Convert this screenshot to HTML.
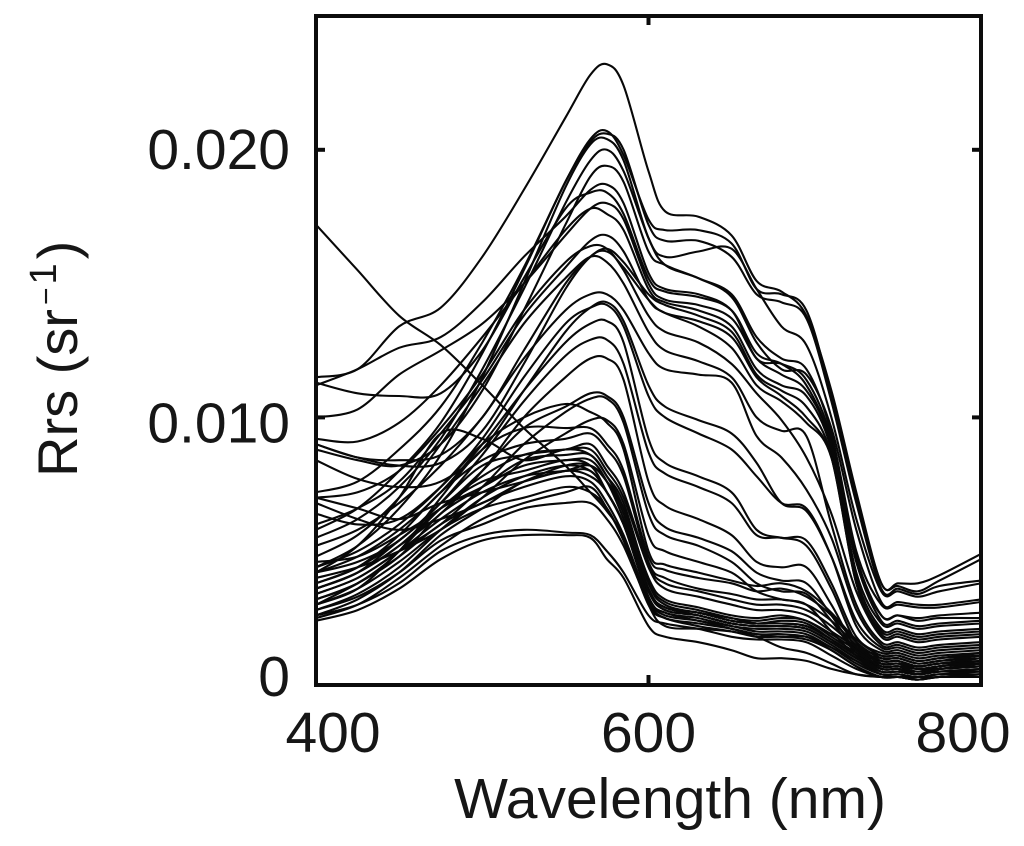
<!DOCTYPE html>
<html>
<head>
<meta charset="utf-8">
<title>Rrs spectra</title>
<style>
html,body{margin:0;padding:0;background:#fff;}
svg{display:block;filter:blur(0.35px);}
text{font-family:"Liberation Sans",Arial,sans-serif;fill:#161616;}
</style>
</head>
<body>
<svg id="chart" width="1024" height="846" viewBox="0 0 1024 846" xmlns="http://www.w3.org/2000/svg">
<defs><clipPath id="plot-clip"><rect x="316" y="16" width="665" height="669"/></clipPath></defs>
<g id="curves" clip-path="url(#plot-clip)"></g>
<rect x="316" y="16" width="665" height="669" fill="none" stroke="#0c0c0c" stroke-width="4"/>
<g id="ticks"></g>
<text x="670" y="818" font-size="57" text-anchor="middle">Wavelength (nm)</text>
<text transform="translate(77,477) rotate(-90)" font-size="56">Rrs (sr<tspan font-size="30" dx="4" dy="-21">−</tspan><tspan font-size="38" dx="3">1</tspan><tspan dx="4" dy="21">)</tspan></text>
</svg>
<script>
// Wavelength knots (nm)
const wavelengths = [400,425,450,475,500,525,550,565,575,585,600,610,630,650,665,680,695,710,725,740,750,762,775,800];
// Rrs readings, in units of 1e-4 per sr
const upperSpectra = [
[115,118,134,141,160,185,212,228,232,224,192,177,175,168,151,147,138,110,72,38,38,38,41,49],
[72,76,88,104,128,156,188,204,207,198,174,170,170,165,148,146,140,108,70,38,37,35,39,47],
[58,66,80,98,124,155,188,203,206,200,172,166,166,160,146,143,137,106,68,36,36,34,37,39],
[44,52,66,86,115,150,186,202,204,196,167,160,162,163,148,134,127,100,62,35,35,33,35,38],
[55,62,74,92,118,148,180,196,200,192,167,157,152,145,128,118,116,96,58,31,31,30,30,32],
[88,84,82,90,110,140,172,190,194,188,162,157,152,146,130,122,118,94,50,30,30,29,29,31],
[112,118,126,130,143,160,175,185,187,180,154,148,146,140,122,120,114,92,48,26,26,25,26,27],
[113,109,108,109,125,152,178,184,184,176,152,147,145,140,124,120,112,90,46,26,26,24,25,25],
[100,103,116,125,135,150,168,178,180,174,150,144,142,137,122,116,110,90,46,24,24,22,23,24],
[92,91,98,112,130,150,170,178,176,170,148,143,140,134,118,112,108,88,42,23,23,21,22,23],
[90,85,84,86,100,125,150,160,163,158,146,142,138,132,116,110,104,86,40,21,21,19,20,21],
[90,85,82,83,95,120,148,160,162,156,144,139,136,130,115,108,100,85,38,20,20,18,19,20],
[60,66,76,94,114,138,156,166,168,162,144,139,134,126,112,106,98,85,38,19,19,17,18,19]
];
const middleSpectra = [
[70,72,80,96,116,140,158,164,163,155,138,132,128,120,109,99,85,64,35,18,18,16,17,18],
[48,56,70,90,112,135,152,160,158,150,132,125,121,115,100,95,93,60,30,16,16,14,15,16],
[52,58,68,82,100,122,140,146,146,140,124,118,116,113,93,85,73,55,28,15,15,13,14,15],
[84,77,74,76,88,110,132,141,143,136,112,104,99,94,83,68,65,48,24,14,14,12,13,14],
[44,50,60,74,92,115,135,141,142,134,108,100,94,88,78,68,66,48,22,13,13,11,12,13],
[42,48,58,72,90,110,128,135,136,128,92,83,78,72,58,55,54,38,18,12,12,10,11,12],
[38,44,54,68,86,106,123,129,129,120,87,79,74,68,56,55,52,36,16,11,11,9,10,11],
[36,42,52,64,80,100,115,122,122,114,76,67,62,56,46,44,44,30,14,10,10,8,9,10],
[46,48,56,66,80,96,104,109,108,100,68,59,55,50,42,39,38,26,13,9,9,7,8,9],
[34,40,50,60,74,90,102,107,107,98,64,56,52,46,38,35,34,24,12,8,8,6,7,8],
[40,44,50,58,70,84,94,99,99,90,56,50,46,42,35,32,30,20,11,7,7,6,6,7],
[172,155,138,127,112,96,82,72,65,55,30,22,21,20,18,14,12,8,4,3,3,2,3,3]
];
const lowerSpectra = [
[24,28,36,47,54,56,56,55,47,40,22,18,16,13,10,10,9,6,4,3,3,2,3,3],
[26,30,38,50,56,58,57,56,50,42,26,23,21,18,17,17,16,11,6,3,3,2,3,4],
[28,33,42,54,60,66,68,68,62,52,31,25,23,21,19,18,18,13,7,3,3,3,3,4],
[30,36,46,58,66,70,74,72,66,54,32,26,24,21,19,19,18,14,8,4,4,3,4,4],
[32,38,48,60,68,74,78,76,68,56,32,27,24,22,20,20,19,14,9,4,4,3,4,5],
[34,40,50,62,72,78,80,80,72,60,33,27,25,22,21,21,20,15,9,5,5,4,5,5],
[36,42,52,66,76,80,84,82,72,60,35,29,26,23,22,22,21,16,10,5,5,4,5,6],
[36,42,54,66,74,82,84,84,76,62,36,29,27,24,23,23,22,17,11,6,6,4,5,6],
[26,32,42,56,66,76,80,82,76,64,36,29,27,24,23,23,22,17,11,6,6,5,6,7],
[70,66,62,68,72,76,80,78,72,60,35,28,26,23,22,22,21,16,10,5,5,4,6,7],
[68,62,58,62,68,76,82,82,76,66,38,30,27,25,23,24,23,17,11,6,6,5,6,8],
[30,36,50,66,78,86,88,88,80,70,44,36,33,30,28,28,26,20,14,8,8,6,7,9],
[42,46,54,68,82,86,88,90,82,72,45,38,35,32,30,30,28,22,14,8,8,7,8,9],
[38,44,56,72,84,90,92,94,88,78,46,40,36,34,32,32,30,24,15,9,9,7,8,10],
[32,38,50,70,88,96,96,96,90,80,48,43,40,38,35,36,33,26,16,10,10,8,9,11],
[64,60,62,74,90,100,105,102,98,88,50,45,42,39,37,38,35,27,17,11,11,9,10,12],
[42,52,70,94,92,84,88,86,78,68,39,31,28,25,24,25,24,18,12,7,7,5,7,8],
[30,38,48,64,74,84,86,86,78,66,40,32,29,26,25,26,24,19,13,7,7,6,7,9],
[28,34,44,58,70,78,82,80,72,60,35,28,26,23,22,22,21,16,10,6,6,4,6,7],
[25,30,40,52,62,68,72,74,66,54,30,25,22,20,18,18,17,13,7,3,3,2,3,4]
];
// Axis ticks and their printed labels
const xTickValues = [400,600,800];
const xTickLabels = ["400","600","800"];
const yTickValues = [0,0.010,0.020];
const yTickLabels = ["0","0.010","0.020"];

const SVGNS = "http://www.w3.org/2000/svg";
function xScale(nm){ return 316 + (nm - 400) * (981 - 316) / 400; }
function yScale(v){ return 685 - v * (685 - 16) / 0.025; }

function smoothPath(pts){
  let d = "M" + pts[0][0].toFixed(1) + " " + pts[0][1].toFixed(1);
  for (let i = 0; i < pts.length - 1; i++) {
    const p0 = pts[Math.max(i - 1, 0)], p1 = pts[i], p2 = pts[i + 1], p3 = pts[Math.min(i + 2, pts.length - 1)];
    const c1x = p1[0] + (p2[0] - p0[0]) / 6, c1y = p1[1] + (p2[1] - p0[1]) / 6;
    const c2x = p2[0] - (p3[0] - p1[0]) / 6, c2y = p2[1] - (p3[1] - p1[1]) / 6;
    d += "C" + c1x.toFixed(1) + " " + c1y.toFixed(1) + " " + c2x.toFixed(1) + " " + c2y.toFixed(1) + " " + p2[0].toFixed(1) + " " + p2[1].toFixed(1);
  }
  return d;
}

const curves = document.getElementById("curves");
upperSpectra.concat(middleSpectra, lowerSpectra).forEach(function(series, idx){
  const pts = series.map(function(v, i){ return [xScale(wavelengths[i]), yScale(v * 1e-4)]; });
  const path = document.createElementNS(SVGNS, "path");
  path.setAttribute("d", smoothPath(pts));
  path.setAttribute("fill", "none");
  path.setAttribute("stroke", "#080808");
  path.setAttribute("stroke-width", "2.1");
  
  
  curves.appendChild(path);
});

const ticks = document.getElementById("ticks");
function addLine(x1, y1, x2, y2, name){
  const l = document.createElementNS(SVGNS, "line");
  l.setAttribute("x1", x1); l.setAttribute("y1", y1);
  l.setAttribute("x2", x2); l.setAttribute("y2", y2);
  l.setAttribute("stroke", "#0c0c0c");
  l.setAttribute("stroke-width", "4");
  
  
  ticks.appendChild(l);
}
function addLabel(x, y, anchor, str, name){
  const t = document.createElementNS(SVGNS, "text");
  t.setAttribute("x", x);
  t.setAttribute("y", y);
  t.setAttribute("font-size", "57");
  t.setAttribute("text-anchor", anchor);
  t.textContent = str;
  
  
  ticks.appendChild(t);
}
xTickValues.forEach(function(v, i){
  const x = xScale(v);
  if (i === 1) {
    addLine(x, 685, x, 675, 'x-tick-' + v);
    addLine(x, 16, x, 25, 'x-tick-top-' + v);
  }
  const lx = i === 0 ? x + 17 : (i === 2 ? x - 18 : x);
  addLabel(lx, 752, "middle", xTickLabels[i], 'x-tick-label-' + v);
});
yTickValues.forEach(function(v, i){
  const y = yScale(v);
  if (i > 0) {
    addLine(316, y, 325, y, 'y-tick-' + yTickLabels[i]);
    addLine(981, y, 972, y, 'y-tick-right-' + yTickLabels[i]);
  }
  const ly = i === 0 ? y + 11 : y + (i === 1 ? 25 : 19);
  addLabel(290, ly, "end", yTickLabels[i], 'y-tick-label-' + yTickLabels[i]);
});
</script>
</body>
</html>
